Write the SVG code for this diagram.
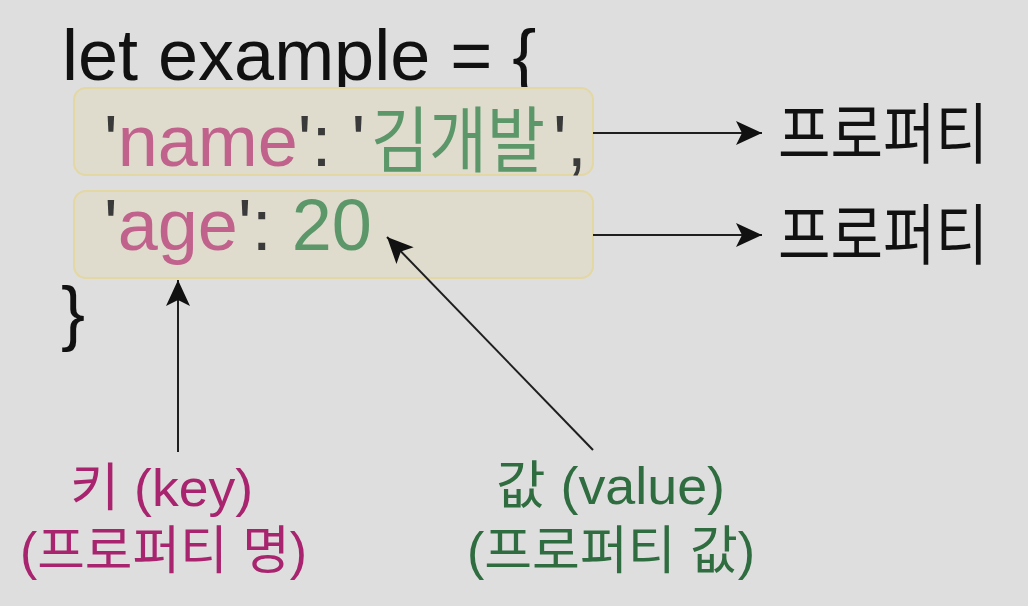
<svg xmlns="http://www.w3.org/2000/svg" width="1028" height="606" viewBox="0 0 1028 606">
<style>
.code{font-family:"Liberation Sans","Noto Sans CJK KR",sans-serif;font-size:72px}
.kr{font-family:"Noto Sans CJK KR","Liberation Sans",sans-serif}
.punct{fill:#3a3a3a}
.key{fill:#c0628c}
.val{fill:#5b9769}
.box{fill:#dfdccd;stroke:#e3d7a4;stroke-width:2}
.lab{font-family:"Liberation Sans","Noto Sans CJK KR",sans-serif;font-size:52px}
.conn{stroke:#1e1e1e;stroke-width:2;fill:none}
</style>
<defs>
<marker id="ah" viewBox="0 0 26 24" refX="26" refY="12" markerWidth="26" markerHeight="24" markerUnits="userSpaceOnUse" orient="auto">
<path d="M0,0 L26,12 L0,24 L6,12 Z" fill="#111"/>
</marker>
</defs>
<rect width="1028" height="606" fill="#dedede"/>
<g id="header">
<text class="code" x="62" y="80" fill="#111">let example = {</text>
</g>
<g id="prop-name">
<rect class="box" x="74" y="88" width="519" height="87" rx="12"/>
<text class="code" x="104" y="166"><tspan class="punct">'</tspan><tspan class="key">name</tspan><tspan class="punct">': '</tspan></text>
<text class="code val" transform="translate(371,166) scale(0.875,1)">김개발</text>
<text class="code punct" x="553" y="166">',</text>
</g>
<g id="prop-age">
<rect class="box" x="74" y="191" width="519" height="87" rx="12"/>
<text class="code" x="104" y="250"><tspan class="punct">'</tspan><tspan class="key">age</tspan><tspan class="punct">': </tspan><tspan class="val">20</tspan></text>
</g>
<g id="closing">
<text class="code" x="61" y="337" fill="#111">}</text>
</g>
<g id="label-prop1">
<text class="kr" x="778" y="158" font-size="66" fill="#111" textLength="210" lengthAdjust="spacingAndGlyphs">프로퍼티</text>
</g>
<g id="label-prop2">
<text class="kr" x="778" y="259" font-size="66" fill="#111" textLength="210" lengthAdjust="spacingAndGlyphs">프로퍼티</text>
</g>
<g id="label-key" fill="#a8246e">
<text class="lab" x="70" y="506" textLength="183" lengthAdjust="spacingAndGlyphs">키 (key)</text>
<text class="lab" x="20" y="569" textLength="287" lengthAdjust="spacingAndGlyphs">(프로퍼티 명)</text>
</g>
<g id="label-value" fill="#2f6d40">
<text class="lab" x="496" y="504" textLength="229" lengthAdjust="spacingAndGlyphs">값 (value)</text>
<text class="lab" x="467" y="569" textLength="288" lengthAdjust="spacingAndGlyphs">(프로퍼티 값)</text>
</g>
<g id="connectors">
<line class="conn" x1="593" y1="133" x2="762" y2="133" marker-end="url(#ah)"/>
<line class="conn" x1="593" y1="235" x2="762" y2="235" marker-end="url(#ah)"/>
<line class="conn" x1="178" y1="452" x2="178" y2="280" marker-end="url(#ah)"/>
<line class="conn" x1="593" y1="450" x2="387" y2="237" marker-end="url(#ah)" stroke-width="1.6"/>
</g>
</svg>
